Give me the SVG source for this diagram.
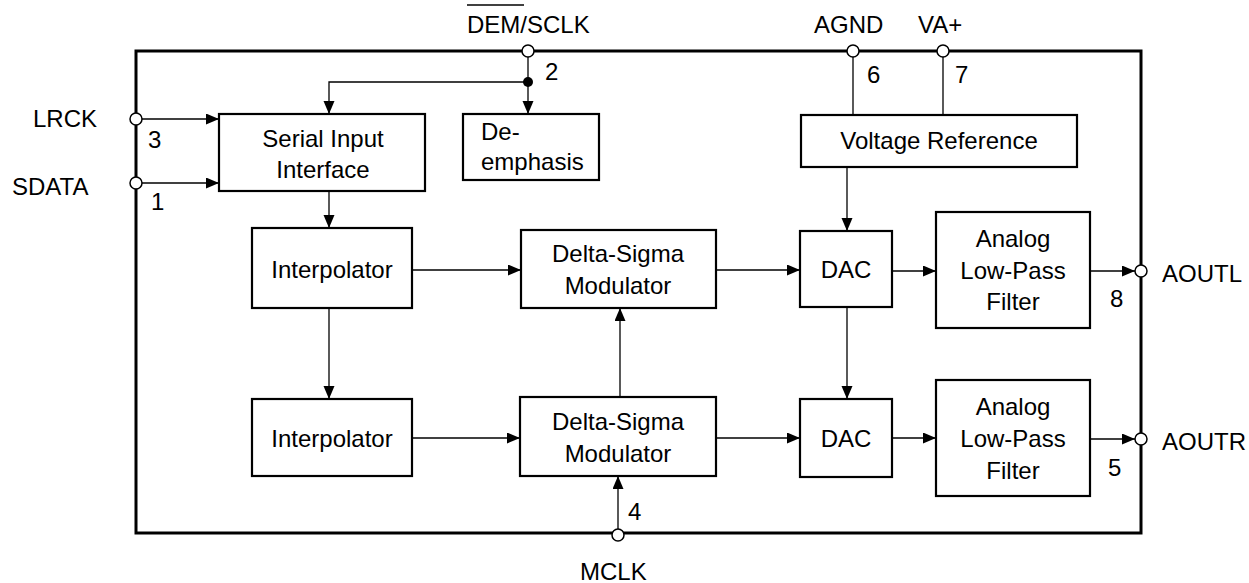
<svg xmlns="http://www.w3.org/2000/svg" width="1249" height="583" viewBox="0 0 1249 583">
<defs>
<marker id="arr" markerUnits="userSpaceOnUse" markerWidth="14" markerHeight="12" refX="13" refY="5.5" orient="auto">
<path d="M0,0 L13,5.5 L0,11 z" fill="#000"/>
</marker>
</defs>
<style>
text{font-family:"Liberation Sans",Arial,sans-serif;font-size:24px;fill:#000}
.c{text-anchor:middle}
.box{fill:#fff;stroke:#000;stroke-width:2.2}
.frame{fill:none;stroke:#000;stroke-width:3}
.w{fill:none;stroke:#000;stroke-width:1.3}
.a{fill:none;stroke:#000;stroke-width:1.3;marker-end:url(#arr)}
.pin{fill:#fff;stroke:#000;stroke-width:1.5}
</style>
<rect width="1249" height="583" fill="#fff"/>
<rect class="frame" x="136" y="51" width="1005" height="482"/>

<g id="connectors">
<path class="a" d="M142,119 H219"/>
<path class="a" d="M142,183 H219"/>
<path class="a" d="M528,57 V114"/>
<path class="a" d="M528,82 H329 V114"/>
<path class="w" d="M853,57 V115"/>
<path class="w" d="M943,57 V115"/>
<path class="a" d="M847,167 V231"/>
<path class="a" d="M329,191 V228"/>
<path class="a" d="M329,308 V399"/>
<path class="a" d="M412,270 H521"/>
<path class="a" d="M716,270 H800"/>
<path class="a" d="M892,271 H936"/>
<path class="a" d="M1090,271 H1135"/>
<path class="a" d="M847,307 V399"/>
<path class="a" d="M412,438 H520"/>
<path class="a" d="M716,438 H800"/>
<path class="a" d="M892,438 H936"/>
<path class="a" d="M1090,439 H1135"/>
<path class="a" d="M620,397 V308"/>
<path class="a" d="M618,529 V476"/>
<circle cx="528" cy="82" r="5" fill="#000"/>
</g>

<g id="pin-lrck"><circle class="pin" cx="136" cy="119" r="6"/><text x="33" y="127">LRCK</text><text x="148" y="148">3</text></g>
<g id="pin-sdata"><circle class="pin" cx="136" cy="183" r="6"/><text x="12" y="195">SDATA</text><text x="151" y="210">1</text></g>
<g id="pin-dem"><circle class="pin" cx="528" cy="51" r="6"/><text x="467" y="33">DEM/SCLK</text><line x1="467" y1="5" x2="524" y2="5" stroke="#000" stroke-width="1.5"/><text x="545" y="80">2</text></g>
<g id="pin-agnd"><circle class="pin" cx="853" cy="51" r="6"/><text x="814" y="33">AGND</text><text x="867" y="83">6</text></g>
<g id="pin-va"><circle class="pin" cx="943" cy="51" r="6"/><text x="918" y="33">VA+</text><text x="955" y="83">7</text></g>
<g id="pin-aoutl"><circle class="pin" cx="1141" cy="271" r="6"/><text x="1162" y="282">AOUTL</text><text x="1110" y="307">8</text></g>
<g id="pin-aoutr"><circle class="pin" cx="1141" cy="439" r="6"/><text x="1162" y="450">AOUTR</text><text x="1108" y="476">5</text></g>
<g id="pin-mclk"><circle class="pin" cx="618" cy="535" r="6"/><text x="580" y="580">MCLK</text><text x="628" y="520">4</text></g>

<g id="serial"><rect class="box" x="219" y="114" width="206" height="77"/><text class="c" x="323" y="147">Serial Input</text><text class="c" x="323" y="178">Interface</text></g>
<g id="deemph"><rect class="box" x="463" y="114" width="136" height="66"/><text x="481" y="140">De-</text><text x="481" y="170">emphasis</text></g>
<g id="vref"><rect class="box" x="801" y="115" width="276" height="52"/><text class="c" x="939" y="149">Voltage Reference</text></g>
<g id="interp1"><rect class="box" x="252" y="228" width="160" height="80"/><text class="c" x="332" y="278">Interpolator</text></g>
<g id="interp2"><rect class="box" x="252" y="399" width="160" height="77"/><text class="c" x="332" y="447">Interpolator</text></g>
<g id="ds1"><rect class="box" x="521" y="230" width="195" height="78"/><text class="c" x="618" y="262">Delta-Sigma</text><text class="c" x="618" y="294">Modulator</text></g>
<g id="ds2"><rect class="box" x="520" y="397" width="196" height="79"/><text class="c" x="618" y="430">Delta-Sigma</text><text class="c" x="618" y="462">Modulator</text></g>
<g id="dac1"><rect class="box" x="800" y="231" width="92" height="76"/><text class="c" x="846" y="278">DAC</text></g>
<g id="dac2"><rect class="box" x="800" y="399" width="92" height="78"/><text class="c" x="846" y="447">DAC</text></g>
<g id="filt1"><rect class="box" x="936" y="212" width="154" height="116"/><text class="c" x="1013" y="247">Analog</text><text class="c" x="1013" y="279">Low-Pass</text><text class="c" x="1013" y="310">Filter</text></g>
<g id="filt2"><rect class="box" x="936" y="380" width="154" height="116"/><text class="c" x="1013" y="415">Analog</text><text class="c" x="1013" y="447">Low-Pass</text><text class="c" x="1013" y="479">Filter</text></g>
</svg>
